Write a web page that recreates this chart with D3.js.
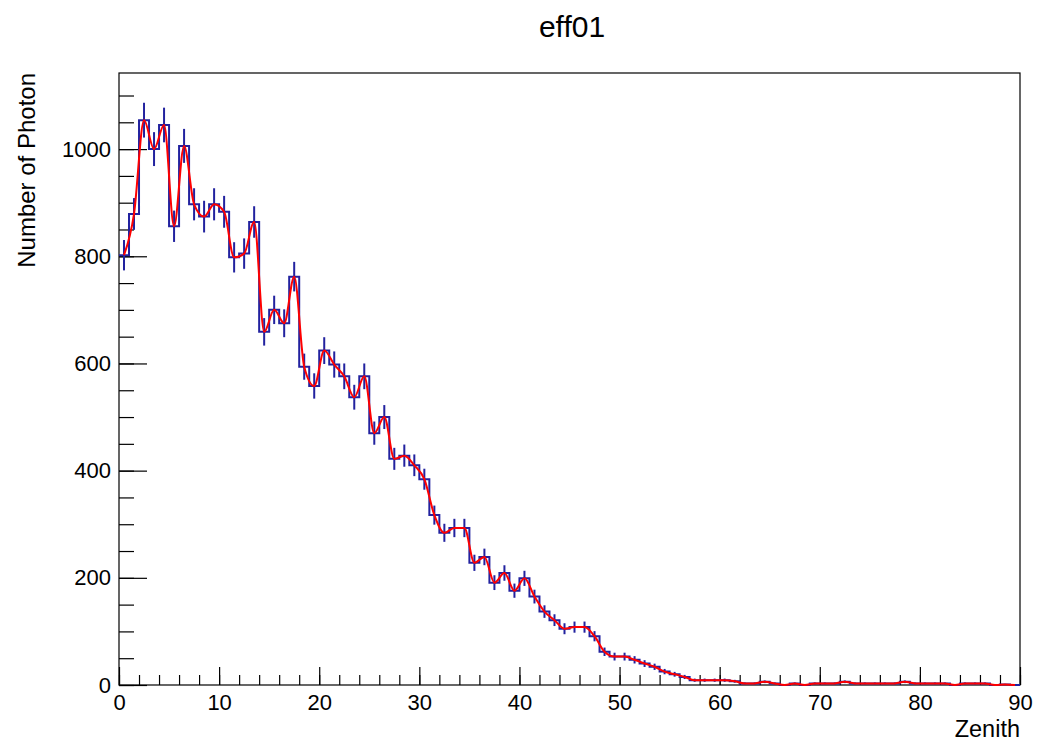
<!DOCTYPE html>
<html>
<head>
<meta charset="utf-8">
<script src="https://cdn.jsdelivr.net/npm/d3@7"></script>
<style>
  html, body { margin: 0; padding: 0; background: #fff; }
  svg { display: block; }
  text { font-family: "Liberation Sans", Arial, Helvetica, sans-serif; fill: #000; }
</style>
</head>
<body>
<svg id="chart" width="1038" height="742"></svg>
<script>
// ---- data ----
const chartTitle = "eff01";
const xTitle = "Zenith";
const yTitle = "Number of Photon";
const xRange = [0, 90];          // Zenith axis range
const binLowEdges = d3.range(0, 90, 1);   // 90 bins, width 1
const binWidth = 1;
const counts = [
  802, 879, 1054, 1000, 1045, 856, 1006, 897, 874, 897,
  883, 798, 805, 864, 659, 700, 675, 762, 594, 558,
  624, 598, 576, 537, 576, 470, 500, 422, 428, 410,
  384, 317, 284, 293, 293, 228, 239, 191, 209, 176,
  199, 165, 137, 121, 105, 108, 108, 91, 62, 53,
  53, 47, 40, 34, 25, 20, 15, 9, 9, 9,
  9, 7, 3, 3, 6, 3, 0, 3, 0, 3,
  3, 3, 6, 3, 3, 3, 3, 3, 6, 3,
  3, 3, 3, 0, 3, 3, 3, 0, 1, 0
];
const xMajorTicks = [0, 10, 20, 30, 40, 50, 60, 70, 80, 90];
const xMinorTicks = d3.range(0, 91, 2);
const yMajorTicks = [0, 200, 400, 600, 800, 1000];
const yMinorTicks = d3.range(0, 1141, 50);
const yMax = 1142;

// ---- layout ----
const frame = { left: 119, right: 1020, top: 73, bottom: 685 };
const blue = "#22229f";
const red = "#ff0000";

const svg = d3.select("#chart");
const x = d3.scaleLinear().domain(xRange).range([frame.left, frame.right]);
const y = d3.scaleLinear().domain([0, yMax]).range([frame.bottom, frame.top]);

// frame
svg.append("rect")
  .attr("x", frame.left).attr("y", frame.top)
  .attr("width", frame.right - frame.left).attr("height", frame.bottom - frame.top)
  .attr("fill", "none").attr("stroke", "#000").attr("stroke-width", 1.2);

// axes
const fs = 22;
function styleAxis(g) {
  g.select(".domain").remove();
  g.selectAll(".tick line").attr("stroke", "#000").attr("stroke-width", 1.2);
  g.selectAll(".tick text").attr("font-size", fs).attr("fill", "#000")
    .attr("font-family", "Liberation Sans, Arial, sans-serif");
}
svg.append("g").attr("transform", `translate(0,${frame.bottom})`)
  .call(d3.axisBottom(x).tickValues(xMinorTicks).tickSize(-10).tickSizeOuter(0).tickFormat(""))
  .call(styleAxis);
svg.append("g").attr("transform", `translate(0,${frame.bottom})`)
  .call(d3.axisBottom(x).tickValues(xMajorTicks).tickSize(-18).tickSizeOuter(0).tickPadding(9).tickFormat(d3.format("d")))
  .call(styleAxis);
svg.append("g").attr("transform", `translate(${frame.left},0)`)
  .call(d3.axisLeft(y).tickValues(yMinorTicks).tickSize(-15).tickSizeOuter(0).tickFormat(""))
  .call(styleAxis);
svg.append("g").attr("transform", `translate(${frame.left},0)`)
  .call(d3.axisLeft(y).tickValues(yMajorTicks).tickSize(-28).tickSizeOuter(0).tickPadding(8).tickFormat(d3.format("d")))
  .call(styleAxis);

// histogram data
const bins = counts.map((c, i) => ({ lo: binLowEdges[i], hi: binLowEdges[i] + binWidth, c, e: Math.sqrt(c) }));

const plot = svg.append("g");
// step outline
const stepPts = [];
bins.forEach(b => { stepPts.push([b.lo, b.c]); stepPts.push([b.hi, b.c]); });
plot.append("path")
  .attr("d", d3.line().x(d => x(d[0])).y(d => y(d[1]))(stepPts))
  .attr("fill", "none").attr("stroke", blue).attr("stroke-width", 2);

// error bars
plot.selectAll("line.err").data(bins.filter(b => b.c > 0)).join("line")
  .attr("class", "err")
  .attr("x1", b => x((b.lo + b.hi) / 2)).attr("x2", b => x((b.lo + b.hi) / 2))
  .attr("y1", b => y(b.c + b.e)).attr("y2", b => y(Math.max(0, b.c - b.e)))
  .attr("stroke", blue).attr("stroke-width", 2);

// smooth red curve through bin centers
plot.append("path")
  .attr("d", d3.line().curve(d3.curveMonotoneX)
    .x(b => x((b.lo + b.hi) / 2)).y(b => y(b.c))(bins))
  .attr("fill", "none").attr("stroke", red).attr("stroke-width", 2);

// titles
svg.append("text").attr("x", 572).attr("y", 37).attr("text-anchor", "middle")
  .attr("font-size", 30).text(chartTitle);
svg.append("text").attr("x", frame.right).attr("y", 737).attr("text-anchor", "end")
  .attr("font-size", 23.5).text(xTitle);
svg.append("text").attr("transform", `translate(35,${frame.top}) rotate(-90)`)
  .attr("text-anchor", "end").attr("font-size", 24).text(yTitle);
</script>
</body>
</html>
